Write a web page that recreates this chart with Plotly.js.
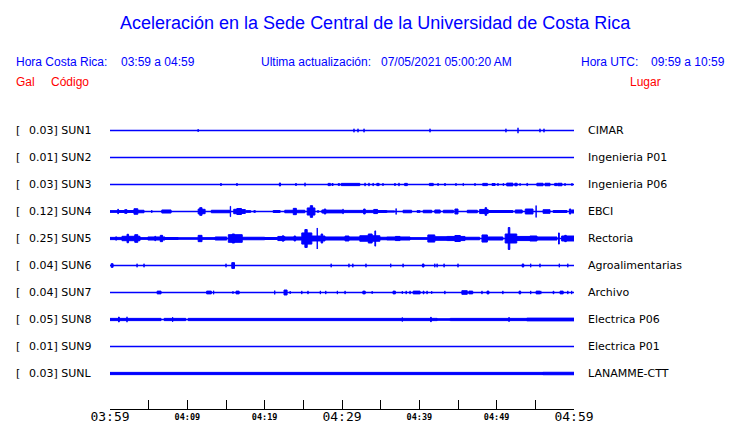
<!DOCTYPE html>
<html><head><meta charset="utf-8">
<script src="https://cdn.plot.ly/plotly-3.0.1.min.js"></script>
<style>html,body{margin:0;padding:0;background:#fff}#chart{width:740px;height:423px}</style>
</head><body><div id="chart"></div>
<script>
// ---- DATA ----
const chartTitle = 'Aceleración en la Sede Central de la Universidad de Costa Rica';
const codes  = ['SUN1','SUN2','SUN3','SUN4','SUN5','SUN6','SUN7','SUN8','SUN9','SUNL'];
const gals   = ['0.03','0.01','0.03','0.12','0.25','0.04','0.04','0.05','0.01','0.03'];
const places = ['CIMAR','Ingenieria P01','Ingenieria P06','EBCI','Rectoria','Agroalimentarias','Archivo','Electrica P06','Electrica P01','LANAMME-CTT'];
const tickMinutes = [0,5,10,15,20,25,30,35,40,45,50,55,60];   // minutes after 03:59
const majorTickVals = [0,30,60];
const majorTickText = ['03:59','04:29','04:59'];
const minorTickVals = [10,20,40,50];
const minorTickText = ['04:09','04:19','04:39','04:49'];

// envelope segments: [start minute, end minute, half-amplitude as fraction of the trace full scale]
const cimar = [[11.4,11.4,0.1],[31.55,31.55,0.13],[32.07,32.07,0.13],[32.85,32.85,0.13],[41.38,41.38,0.13],
  [51.2,51.2,0.13],[52.76,52.76,0.2],[55.6,55.6,0.13],[56.12,56.12,0.13]];
const ing01 = [];
const ing06 = [[14.35,14.35,0.11],[16.42,16.42,0.11],[21.9,22.05,0.15],[24.05,24.05,0.11],[25.22,25.22,0.13],
  [28.2,28.5,0.12],[28.7,28.85,0.11],[29.5,29.7,0.1],[29.9,32.3,0.12],[32.98,32.98,0.12],[33.49,33.49,0.12],
  [34.0,34.05,0.13],[34.5,34.8,0.12],[35.3,35.3,0.1],[36.85,36.85,0.11],[37.37,37.37,0.12],[38.1,38.45,0.12],
  [41.3,41.8,0.12],[42.42,42.42,0.1],[43.32,43.32,0.11],[44.74,44.74,0.1],[45.65,45.7,0.12],[47.2,47.2,0.1],
  [48.2,48.8,0.12],[49.4,49.8,0.11],[50.17,50.17,0.1],[50.82,50.9,0.11],[51.3,52.1,0.14],[52.35,52.65,0.13],
  [53.0,53.05,0.11],[53.9,54.0,0.12],[55.2,56.0,0.13],[56.25,56.9,0.13],[57.5,57.8,0.12],[57.9,58.45,0.13],
  [58.84,58.84,0.1],[59.74,59.74,0.1]];
const ebci = [[0,1.0,0.10],[1.0,1.1,0.20],[1.1,1.9,0.11],[1.9,2.2,0.17],[2.2,3.1,0.11],[3.1,3.6,0.24],[3.6,4.4,0.13],
  [5.4,5.4,0.1],[6.7,7.9,0.15],[11.4,11.6,0.22],[11.6,11.9,0.32],[11.9,12.3,0.2],[13.1,15.5,0.13],[15.55,15.6,0.42],
  [16.0,16.4,0.2],[16.4,17.0,0.26],[17.0,17.5,0.18],[17.6,18.2,0.1],[18.6,18.8,0.1],[21.1,22.0,0.11],
  [22.6,23.7,0.13],[23.7,24.1,0.27],[24.1,25.2,0.13],[25.5,25.9,0.3],[25.9,26.2,0.47],[26.2,26.5,0.3],
  [26.8,27.0,0.09],[27.4,27.7,0.15],[27.7,27.9,0.22],[27.9,30.0,0.14],[30.13,30.13,0.19],
  [30.0,32.8,0.12],[32.8,33.0,0.22],[33.0,34.1,0.12],[34.1,34.6,0.19],[34.6,35.8,0.11],[35.8,36.8,0.08],
  [37.0,37.0,0.22],[37.9,39.0,0.13],[39.7,40.1,0.1],[40.5,41.6,0.13],[42.0,42.7,0.15],[43.1,44.4,0.13],
  [44.6,45.0,0.22],[46.2,47.5,0.13],[47.8,48.5,0.19],[48.5,48.7,0.32],[48.7,48.9,0.19],[48.9,52.1,0.11],
  [52.4,53.3,0.15],[53.7,54.7,0.22],[55.1,55.1,0.44],[56.0,56.9,0.17],[57.3,59.1,0.11],[59.4,59.6,0.22],[59.7,60,0.15]];
const rectoria = [[0,1.55,0.12],[0.7,0.9,0.15],[1.55,3.88,0.2],[2.2,2.4,0.35],[3.2,3.6,0.32],[3.88,4.9,0.1],
  [4.9,7.1,0.15],[5.8,5.9,0.2],[6.5,6.8,0.27],[7.1,8.8,0.11],[8.8,11.4,0.09],[11.4,11.9,0.27],[11.9,13.6,0.1],
  [13.6,15.1,0.15],[15.3,17.1,0.32],[15.8,16.1,0.37],[17.1,20.0,0.13],[20.0,21.7,0.11],[21.7,22.6,0.19],
  [22.3,22.45,0.24],[22.6,24.8,0.15],[23.8,24.0,0.22],[24.8,26.1,0.45],[25.2,25.5,0.7],[26.8,26.8,0.78],
  [26.1,27.8,0.22],[27.3,27.5,0.37],[27.8,30.4,0.15],[30.4,32.3,0.15],[30.4,30.9,0.22],[32.3,34.9,0.24],
  [33.4,33.9,0.37],[34.25,34.35,0.6],[34.9,35.8,0.13],[35.8,38.8,0.15],[36.9,37.5,0.19],[38.8,41.1,0.1],
  [41.1,42.0,0.3],[42.0,43.6,0.17],[43.6,45.9,0.19],[44.6,45.3,0.26],[45.9,47.8,0.13],[48.1,48.8,0.3],
  [48.8,50.8,0.15],[51.1,52.6,0.37],[51.5,51.7,0.85],[52.6,55.2,0.19],[54.3,55.2,0.22],[55.2,57.8,0.15],
  [58.0,58.1,0.45],[58.4,60,0.22],[58.8,59.0,0.27]];
const agro = [[0.15,0.4,0.17],[3.5,3.5,0.13],[4.4,4.4,0.13],[15.0,15.0,0.13],[15.75,16.1,0.25],[28.6,28.6,0.13],
  [30.9,30.9,0.13],[31.4,31.4,0.13],[33.1,33.1,0.13],[36.3,36.3,0.13],[37.9,37.9,0.13],[40.4,40.6,0.15],
  [42.0,42.0,0.13],[42.3,42.3,0.13],[43.2,43.2,0.13],[45.0,45.0,0.13],[53.3,53.5,0.15],[54.4,54.4,0.13],
  [55.6,55.6,0.13],[58.1,58.1,0.13],[59.2,59.2,0.13]];
const archivo = [[6.1,6.6,0.14],[12.5,13.1,0.14],[13.4,13.4,0.13],[15.9,15.9,0.09],[16.3,16.7,0.14],[21.3,21.3,0.14],
  [22.5,22.9,0.22],[23.3,23.3,0.1],[24.8,24.8,0.12],[25.6,25.6,0.12],[27.2,27.2,0.12],[27.9,27.9,0.12],
  [29.4,29.4,0.12],[30.4,30.4,0.12],[32.7,33.0,0.14],[33.9,33.9,0.1],[36.6,36.9,0.14],[37.8,37.8,0.1],
  [38.3,38.3,0.12],[38.8,38.8,0.12],[39.2,40.1,0.14],[40.5,40.6,0.14],[41.0,41.0,0.12],[41.6,41.6,0.1],
  [43.3,43.3,0.12],[45.5,46.2,0.17],[46.4,46.9,0.14],[48.1,48.1,0.12],[48.75,49.0,0.14],[50.8,50.8,0.12],
  [52.9,53.1,0.14],[54.4,54.4,0.12],[55.1,55.6,0.14],[55.7,55.7,0.12],[57.3,57.4,0.13],[58.2,58.6,0.14],
  [59.2,59.2,0.12],[59.7,59.7,0.12]];
const elec06 = [[0,6.6,0.12],[1.1,1.2,0.22],[2.2,2.2,0.2],[7.0,9.8,0.12],[8.1,8.1,0.17],[10.1,42.3,0.12],
  [37.8,37.8,0.15],[41.45,41.55,0.2],[42.3,44.0,0.09],[44.0,53.9,0.12],[51.6,51.6,0.17],[53.9,60,0.14]];
const elec01 = [];
const lanamme = [[0,56,0.12],[56,60,0.13]];
const segments = [cimar, ing01, ing06, ebci, rectoria, agro, archivo, elec06, elec01, lanamme];

// ---- LAYOUT GEOMETRY ----
const W = 740, H = 423, ML = 110, MR = 166, MT = 116, MB = 14;
const PW = W - ML - MR, PH = H - MT - MB;
const BLUE = '#0000ff', RED = '#ff0000';
const ROW = 27;                       // pixels between traces
const yTop = (130.5 - MT) / ROW;      // first trace centre
const yRange = [yTop - PH / ROW, yTop];
const strokeHalf = 0.5 / ROW;         // half of the 1px outline, in data units
const pxX = p => (p - ML) / PW;
const pxY = p => (H - MB - p) / PH;

const traces = [];
segments.forEach((segs, i) => {
  const c = -i;
  traces.push({x:[0,60], y:[c,c], mode:'lines', line:{color:BLUE, width:1.3}, hoverinfo:'skip'});
  if (segs.length) {
    const xs = [], ys = [];
    segs.forEach(([t0,t1,a]) => {
      const h = (t1 > t0) ? Math.max(0.2 / ROW, a * 0.5 - strokeHalf) : a * 0.5;
      xs.push(t0,t1,t1,t0,t0,null);
      ys.push(c+h,c+h,c-h,c-h,c+h,null);
    });
    traces.push({x:xs, y:ys, mode:'lines', fill:'toself', fillcolor:BLUE,
      line:{color:BLUE, width:1}, hoverinfo:'skip'});
  }
});
traces.push({x:[30], y:[0], xaxis:'x2', mode:'markers', marker:{opacity:0}, hoverinfo:'skip'});

const ann = [];
const add = (o) => ann.push(Object.assign({showarrow:false, xanchor:'left', yanchor:'middle', borderpad:0}, o));
const hdr = {family:'Liberation Sans, Arial, sans-serif', size:12, color:BLUE};
add({text:chartTitle, xref:'paper', yref:'paper', x:pxX(375.5), y:pxY(23), xanchor:'center',
     font:{family:'Liberation Sans, Arial, sans-serif', size:18, color:BLUE}});
add({text:'Hora Costa Rica:', xref:'paper', yref:'paper', x:pxX(15), y:pxY(62), font:hdr});
add({text:'03:59 a 04:59', xref:'paper', yref:'paper', x:pxX(120), y:pxY(62), font:hdr});
add({text:'Ultima actualización:', xref:'paper', yref:'paper', x:pxX(260), y:pxY(62), font:hdr});
add({text:'07/05/2021 05:00:20 AM', xref:'paper', yref:'paper', x:pxX(380), y:pxY(62), font:hdr});
add({text:'Hora UTC:', xref:'paper', yref:'paper', x:pxX(580), y:pxY(62), font:hdr});
add({text:'09:59 a 10:59', xref:'paper', yref:'paper', x:pxX(650), y:pxY(62), font:hdr});
const red = Object.assign({}, hdr, {color:RED});
add({text:'Gal', xref:'paper', yref:'paper', x:pxX(15), y:pxY(82), font:red});
add({text:'Código', xref:'paper', yref:'paper', x:pxX(50), y:pxY(82), font:red});
add({text:'Lugar', xref:'paper', yref:'paper', x:pxX(629), y:pxY(82), font:red});
const lab = {family:'DejaVu Sans, sans-serif', size:11, color:'#000'};
codes.forEach((code, i) => {
  add({text:'[', xref:'paper', yref:'y', x:pxX(15), y:-i, font:lab});
  add({text:gals[i] + '] ' + code, xref:'paper', yref:'y', x:pxX(27.5), y:-i, font:lab});
  add({text:places[i], xref:'paper', yref:'y', x:pxX(587), y:-i, font:lab});
});

const layout = {
  width:W, height:H, margin:{l:ML, r:MR, t:MT, b:MB},
  paper_bgcolor:'#fff', plot_bgcolor:'#fff', showlegend:false,
  xaxis:{range:[0,60], tickvals:tickMinutes,
    ticktext:tickMinutes.map(m => { const k = majorTickVals.indexOf(m); return k >= 0 ? majorTickText[k] : ''; }),
    ticks:'inside', ticklen:9, tickwidth:1, tickcolor:'#000', showline:true, linecolor:'#000', linewidth:1,
    showgrid:false, zeroline:false, fixedrange:true, ticklabelstandoff:-5,
    tickfont:{family:'DejaVu Sans Mono, monospace', size:13, color:'#000'}},
  xaxis2:{range:[0,60], overlaying:'x', side:'bottom', tickvals:minorTickVals, ticktext:minorTickText,
    ticks:'', showline:false, showgrid:false, zeroline:false, fixedrange:true, ticklabelstandoff:1,
    tickfont:{family:'DejaVu Sans Mono, monospace', size:8.5, color:'#000', weight:'bold'}},
  yaxis:{range:yRange, visible:false, fixedrange:true},
  annotations:ann
};
Plotly.newPlot('chart', traces, layout, {staticPlot:true, displayModeBar:false});
</script></body></html>
